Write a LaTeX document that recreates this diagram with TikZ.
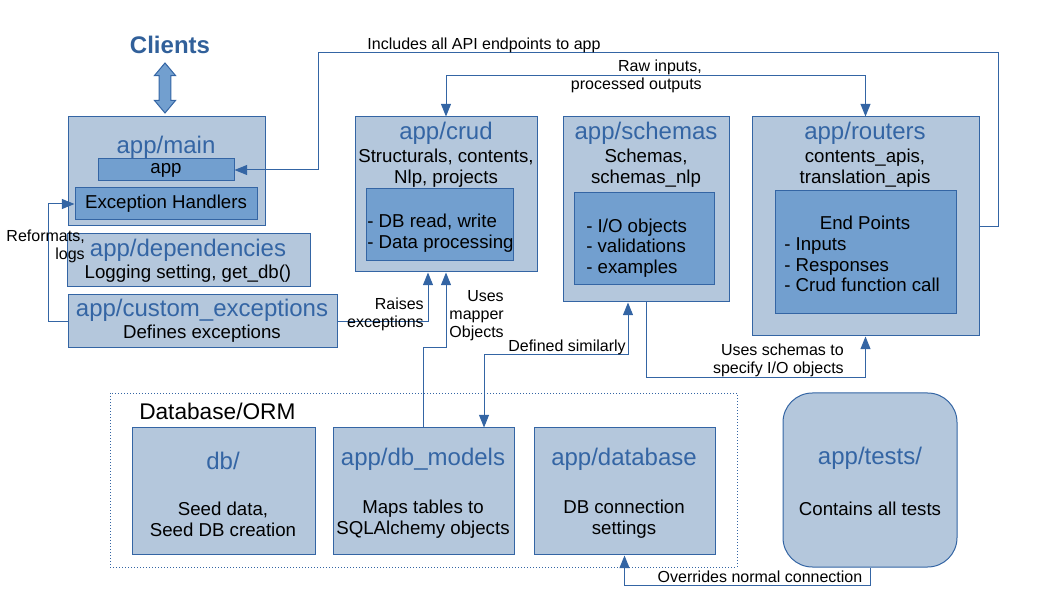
\documentclass[tikz,border=0pt]{standalone}
\usepackage{fontspec}
\setmainfont{Liberation Sans}
\usetikzlibrary{arrows.meta,positioning,shapes.arrows}
\definecolor{lineblue}{HTML}{3465A4}
\definecolor{boxblue}{HTML}{B4C7DC}
\definecolor{partblue}{HTML}{729FCF}
\definecolor{clientblue}{HTML}{31609A}
\tikzstyle{module}=[
	rectangle,
	draw=lineblue,
	fill=boxblue,
	line width=0.75pt,
	inner sep=0pt
]
\tikzstyle{part}=[
	module,
	fill=partblue,
	font=\fontsize{14}{15.5}\selectfont
]
\tikzstyle{title}=[
	text=lineblue,
	inner sep=0pt,
	yshift=-1.5pt,
	font=\fontsize{18}{20}\selectfont
]
\tikzstyle{body}=[
	inner sep=0pt,
	align=center,
	yshift=-1.5pt,
	font=\fontsize{14}{15.5}\selectfont
]
\tikzstyle{listing}=[
	body,
	align=left,
	anchor=west
]
\tikzstyle{note}=[
	inner sep=0pt,
	align=right,
	yshift=-0.75pt,
	font=\fontsize{12}{13.5}\selectfont
]
\tikzstyle{flow}=[
	draw=lineblue,
	line width=0.75pt,
	>={Triangle[length=9.5pt,width=7.5pt]}
]
\tikzset{boxsize/.style 2 args={minimum width=#1*0.75pt, minimum height=#2*0.75pt}}

\begin{document}
\begin{tikzpicture}[x=0.75pt,y=-0.75pt]
\useasboundingbox (0,0) rectangle (1058,595);

\node [text=clientblue, font=\fontsize{18}{20}\selectfont\bfseries] (Clients) at (170,45) {Clients};
\node [double arrow, draw=lineblue, fill=partblue, line width=0.75pt, rotate=90, inner sep=4.1pt,
	minimum height=37.5pt, double arrow head extend=3.4pt, double arrow tip angle=80] (ClientsLink) at (165,88) {};

\node [module, boxsize={197}{109}] (AppMain) at (166.5,171.5) {};
\node [title] (MainTitle) at (166,145) {app/main};
\node [part, boxsize={136}{22}] (AppNode) at (166,170) {app};
\node [part, boxsize={182}{32}] (ExcHandlers) at (166,204) {Exception Handlers};

\node [module, boxsize={243}{53}] (AppDependencies) at (188.5,260.5) {};
\node [title] (DependenciesTitle) at (188,248) {app/dependencies};
\node [body] (DependenciesText) at (188,272) {Logging setting, get\_db()};

\node [module, boxsize={269}{53}] (CustomExc) at (202.5,321.5) {};
\node [title] (CustomExcTitle) at (202,308) {app/custom\_exceptions};
\node [body] (CustomExcText) at (202,332) {Defines exceptions};

\node [module, boxsize={182}{155}] (AppCrud) at (446,194.5) {};
\node [title] (CrudTitle) at (446,131) {app/crud};
\node [body] (CrudText) at (446,166) {Structurals, contents,\\Nlp, projects};
\node [part, boxsize={147}{72}] (CrudPart) at (439.5,225) {};
\node [listing] (CrudList) at (367,231.5) {- DB read, write\\- Data processing};

\node [module, boxsize={166}{185}] (AppSchemas) at (646,209.5) {};
\node [title] (SchemasTitle) at (646,131) {app/schemas};
\node [body] (SchemasText) at (646,166) {Schemas,\\schemas\_nlp};
\node [part, boxsize={140}{92}] (SchemasPart) at (644,239) {};
\node [listing] (SchemasList) at (586,246) {- I/O objects\\- validations\\- examples};

\node [module, boxsize={227}{219}] (AppRouters) at (865.5,226.5) {};
\node [title] (RoutersTitle) at (865,131) {app/routers};
\node [body] (RoutersText) at (865,166) {contents\_apis,\\translation\_apis};
\node [part, boxsize={181}{123}] (RoutersPart) at (865.5,252.5) {};
\node [body] (EndPoints) at (865,221) {End Points};
\node [listing] (RoutersList) at (784,263) {- Inputs\\- Responses\\- Crud function call};

\node [rectangle, draw=lineblue, line width=0.6pt, dash pattern=on 0.75pt off 1.5pt, boxsize={627}{174}] (OrmFrame) at (423.5,480) {};
\node [anchor=west, inner sep=0pt, yshift=-1.5pt, font=\fontsize{17}{20}\selectfont] (OrmTitle) at (139,409) {Database/ORM};

\node [module, boxsize={183}{127}] (DbSeed) at (223.5,491.5) {};
\node [title] (SeedTitle) at (223,459) {db/};
\node [body] (SeedText) at (223,517.5) {Seed data,\\Seed DB creation};

\node [module, boxsize={181}{127}] (DbModels) at (423.5,491.5) {};
\node [title] (ModelsTitle) at (423,457) {app/db\_models};
\node [body] (ModelsText) at (423,517.5) {Maps tables to\\SQLAlchemy objects};

\node [module, boxsize={181}{127}] (AppDatabase) at (624.5,491.5) {};
\node [title] (DatabaseTitle) at (624,457) {app/database};
\node [body] (DatabaseText) at (624,517.5) {DB connection\\settings};

\node [module, rounded corners=22pt, boxsize={174}{174}] (AppTests) at (870,480) {};
\node [title] (TestsTitle) at (870,456) {app/tests/};
\node [body] (TestsText) at (870,507) {Contains all tests};

\draw [flow, ->] (AppRouters.east) -| (998,53) -| (318,170) -- (AppNode.east);
\node [note] (IncludesNote) at (484,44) {Includes all API endpoints to app};

\draw [flow, <->] (AppCrud.north) -- ++(0,-41) -| (AppRouters.north);
\node [note, anchor=east] (RawNote) at (702,75) {Raw inputs,\\processed outputs};

\draw [flow, ->] (CustomExc.west) -- ++(-19,0) |- (ExcHandlers.west);
\node [note, anchor=east] (ReformatNote) at (85,245) {Reformats,\\logs\hspace{6.5pt}};

\draw [flow, ->] (CustomExc.east) -| ([xshift=-13.5pt]AppCrud.south);
\node [note, anchor=east] (RaisesNote) at (424,313) {Raises\\exceptions};

\draw [flow, ->] (DbModels.north) -- ++(0,-80) -| (AppCrud.south);
\node [note, anchor=east] (MapperNote) at (504,315) {Uses\\mapper\\Objects};

\draw [flow, <->] ([xshift=45.4pt]DbModels.north) -- ++(0,-73) -| ([xshift=-13.5pt]AppSchemas.south);
\node [note] (SimilarNote) at (567,346) {Defined similarly};

\draw [flow, ->] (AppSchemas.south) -- ++(0,75) -| (AppRouters.south);
\node [note, anchor=east] (SchemasNote) at (844,359.5) {Uses schemas to\\specify I/O objects};

\draw [flow, ->] (AppTests.south) -- ++(0,18) -| (AppDatabase.south);
\node [note] (OverridesNote) at (760,576) {Overrides normal connection};
\end{tikzpicture}
\end{document}
